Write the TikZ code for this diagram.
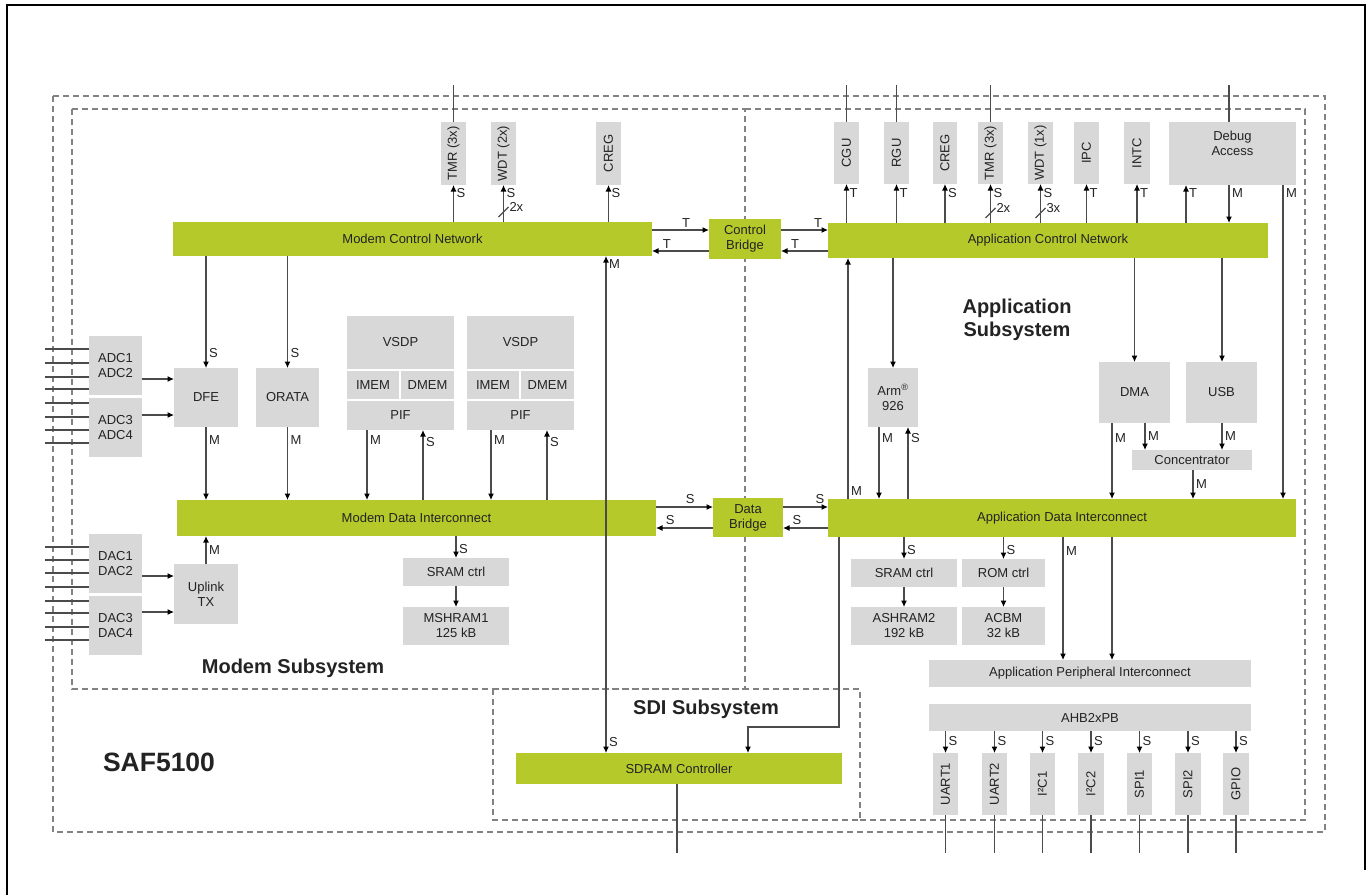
\documentclass[tikz,border=0pt]{standalone}
\usepackage{fontspec}
\setmainfont{Liberation Sans}
\usetikzlibrary{arrows.meta,calc}
\definecolor{grn}{RGB}{181,202,42}
\definecolor{gbx}{RGB}{216,216,216}
\definecolor{lnc}{RGB}{75,75,75}
\definecolor{txc}{RGB}{35,35,35}
\definecolor{dsh}{RGB}{130,130,130}
\newcommand\bx[7]{\node[#6,anchor=north west,minimum width={(#4-#2)*1pt},minimum height={(#5-#3)*1pt}] (#1) at (#2,#3) {#7};}
\begin{document}
\begin{tikzpicture}[x=1pt,y=-1pt,
  every node/.style={font=\fontsize{13}{15}\selectfont, text=txc, inner sep=0pt, outer sep=0pt},
  gbox/.style={fill=gbx, align=center},
  grbox/.style={fill=grn, align=center},
  ln/.style={draw=lnc, line width=1.1pt},
  arr/.style={ln, -{Latex[length=6.5pt,width=6pt,color=black]}},
  darr/.style={ln, {Latex[length=6.5pt,width=6pt,color=black]}-{Latex[length=6.5pt,width=6pt,color=black]}},
  lab/.style={font=\fontsize{13}{15}\selectfont, inner sep=3pt},
  region/.style={draw=dsh, line width=1.2pt, dash pattern=on 6pt off 4pt},
  title/.style={font=\fontsize{20}{23}\selectfont\bfseries, align=center},
]
\useasboundingbox (0,0) rectangle (1370,895);
% frame
\draw[black, line width=2pt] (7,895) -- (7,5) -- (1365,5) -- (1365,870);
% regions
\draw[region] (53,96) rectangle (1325,832);
\draw[region] (72,109) rectangle (745,689);
\draw[region] (493,689) rectangle (860,820);
\draw[region] (745,109) -- (1305,109) -- (1305,820) -- (860,820);

\coordinate (ytop) at (0,85);
\coordinate (ybot) at (0,853);

% ---------- modem top ----------
\bx{tmrm}{441}{122}{466}{185}{gbox}{\rotatebox{90}{TMR (3x)}}
\bx{wdtm}{491}{122}{516}{185}{gbox}{\rotatebox{90}{WDT (2x)}}
\bx{cregm}{596}{122}{621}{185}{gbox}{\rotatebox{90}{CREG}}
\bx{mcn}{173}{222}{652}{256}{grbox}{Modem Control Network}
\bx{cb}{709}{219}{781}{259}{grbox}{Control\\Bridge}
\bx{acn}{828}{223}{1268}{258}{grbox}{Application Control Network}

% ---------- app top ----------
\bx{cgu}{834}{122}{859}{184}{gbox}{\rotatebox{90}{CGU}}
\bx{rgu}{884}{122}{909}{184}{gbox}{\rotatebox{90}{RGU}}
\bx{crega}{933}{122}{957}{184}{gbox}{\rotatebox{90}{CREG}}
\bx{tmra}{978}{122}{1003}{184}{gbox}{\rotatebox{90}{TMR (3x)}}
\bx{wdta}{1028}{122}{1053}{184}{gbox}{\rotatebox{90}{WDT (1x)}}
\bx{ipc}{1074}{122}{1099}{184}{gbox}{\rotatebox{90}{IPC}}
\bx{intc}{1124}{122}{1150}{184}{gbox}{\rotatebox{90}{INTC}}
\bx{dbg}{1169}{122}{1296}{185}{gbox}{Debug\\Access\\[6pt]}

% ---------- modem middle ----------
\bx{adc12}{89}{336}{142}{395}{gbox}{ADC1\\ADC2}
\bx{adc34}{89}{398}{142}{457}{gbox}{ADC3\\ADC4}
\bx{dfe}{174}{368}{238}{427}{gbox}{DFE}
\bx{orata}{256}{368}{319}{427}{gbox}{ORATA}
\bx{vatop}{347}{316}{454}{369}{gbox}{VSDP}
\bx{vaim}{347}{371}{399}{399}{gbox}{IMEM}
\bx{vadm}{401}{371}{454}{399}{gbox}{DMEM}
\bx{vapif}{347}{401}{454}{430}{gbox}{PIF}
\bx{vbtop}{467}{316}{574}{369}{gbox}{VSDP}
\bx{vbim}{467}{371}{519}{399}{gbox}{IMEM}
\bx{vbdm}{521}{371}{574}{399}{gbox}{DMEM}
\bx{vbpif}{467}{401}{574}{430}{gbox}{PIF}
\bx{mdi}{177}{500}{656}{536}{grbox}{Modem Data Interconnect}
\bx{db}{713}{498}{783}{537}{grbox}{Data\\Bridge}
\bx{adi}{828}{499}{1296}{537}{grbox}{Application Data Interconnect}

% ---------- app middle ----------
\bx{arm}{868}{368}{918}{427}{gbox}{Arm\textsuperscript{®}\\926}
\bx{dma}{1099}{362}{1170}{423}{gbox}{DMA}
\bx{usb}{1186}{362}{1257}{423}{gbox}{USB}
\bx{conc}{1132}{450}{1252}{470}{gbox}{Concentrator}

% ---------- modem lower ----------
\bx{dac12}{89}{534}{142}{593}{gbox}{DAC1\\DAC2}
\bx{dac34}{89}{596}{142}{655}{gbox}{DAC3\\DAC4}
\bx{upl}{174}{564}{238}{624}{gbox}{Uplink\\TX}
\bx{sramm}{403}{558}{509}{586}{gbox}{SRAM ctrl}
\bx{msh}{403}{607}{509}{645}{gbox}{MSHRAM1\\125 kB}

% ---------- app lower ----------
\bx{srama}{851}{559}{957}{587}{gbox}{SRAM ctrl}
\bx{rom}{962}{559}{1045}{587}{gbox}{ROM ctrl}
\bx{ash}{851}{607}{957}{645}{gbox}{ASHRAM2\\192 kB}
\bx{acbm}{962}{607}{1045}{645}{gbox}{ACBM\\32 kB}
\bx{api}{929}{660}{1251}{687}{gbox}{Application Peripheral Interconnect}
\bx{ahb}{929}{704}{1251}{731}{gbox}{AHB2xPB}
\bx{u1}{933}{753}{958}{815}{gbox}{\rotatebox{90}{UART1}}
\bx{u2}{982}{753}{1007}{815}{gbox}{\rotatebox{90}{UART2}}
\bx{ic1}{1030}{753}{1055}{815}{gbox}{\rotatebox{90}{I²C1}}
\bx{ic2}{1078}{753}{1104}{815}{gbox}{\rotatebox{90}{I²C2}}
\bx{sp1}{1127}{753}{1152}{815}{gbox}{\rotatebox{90}{SPI1}}
\bx{sp2}{1175}{753}{1201}{815}{gbox}{\rotatebox{90}{SPI2}}
\bx{gp}{1223}{753}{1249}{815}{gbox}{\rotatebox{90}{GPIO}}
\bx{sdram}{516}{753}{842}{784}{grbox}{SDRAM Controller}

% ---------- titles ----------
\node[title] (appt) at (1017,320) {Application\\Subsystem};
\node[title] (modt) at (293,668) {Modem Subsystem};
\node[title] (sdit) at (706,709) {SDI Subsystem};
\node[font=\fontsize{26.5}{30}\selectfont\bfseries] (saf) at (159,762) {SAF5100};

% ---------- external lines ----------
\coordinate (xdm) at (1229,0);
\foreach \n in {tmrm,cgu,rgu,tmra} \draw[ln] (\n.north) -- (\n.north |- ytop);
\draw[ln] (dbg.north -| xdm) -- (ytop -| xdm);
\foreach \n in {u1,u2,ic1,ic2,sp1,sp2,gp} \draw[ln] (\n.south) -- (\n.south |- ybot);
\coordinate (xso) at (677,0);
\draw[ln] (sdram.south -| xso) -- (ybot -| xso);
\foreach \y in {349,363,377,389,403,417,430,443,547,560,573,587,601,613,627,640}
  \draw[ln] (45,\y) -- (89,\y);

% ---------- modem control arrows ----------
\foreach \n in {tmrm,wdtm,cregm} \draw[arr] (mcn.north -| \n) -- node[lab,right,pos=0.78]{S} (\n.south);
\draw[ln] ($(mcn.north -| wdtm)+(-5,-5)$) -- ++(10,-10);
\node[lab,anchor=west] (x2m) at ($(mcn.north -| wdtm)+(3,-15)$) {2x};

\coordinate (yt1) at (0,230);
\coordinate (yt2) at (0,251);
\draw[arr] (mcn.east |- yt1) -- node[lab,above,pos=0.6]{T} (cb.west |- yt1);
\draw[arr] (cb.west |- yt2) -- node[lab,above,pos=0.74]{T} (mcn.east |- yt2);
\draw[arr] (cb.east |- yt1) -- node[lab,above,pos=0.79]{T} (acn.west |- yt1);
\draw[arr] (acn.west |- yt2) -- node[lab,above,pos=0.7]{T} (cb.east |- yt2);

% ---------- app control arrows ----------
\foreach \n/\l in {cgu/T,rgu/T,crega/S,tmra/S,wdta/S,ipc/T,intc/T}
  \draw[arr] (acn.north -| \n) -- node[lab,right,pos=0.78]{\l} (\n.south);
\draw[ln] ($(acn.north -| tmra)+(-5,-5)$) -- ++(10,-10);
\node[lab,anchor=west] (x2a) at ($(acn.north -| tmra)+(3,-15)$) {2x};
\draw[ln] ($(acn.north -| wdta)+(-5,-5)$) -- ++(10,-10);
\node[lab,anchor=west] (x3a) at ($(acn.north -| wdta)+(3,-15)$) {3x};
\coordinate (xdt) at (1186,0);
\draw[arr] (acn.north -| xdt) -- node[lab,right,pos=0.78]{T} (dbg.south -| xdt);
\draw[arr] (dbg.south -| xdm) -- node[lab,right,pos=0.22]{M} (acn.north -| xdm);
\coordinate (xdm2) at (1283,0);
\draw[arr] (dbg.south -| xdm2) -- node[lab,right,pos=0.025]{M} (adi.north -| xdm2);

% ---------- below ACN ----------
\coordinate (xs) at (848,0);
\draw[arr] (adi.north -| xs) -- node[lab,right,pos=0.033]{M} (acn.south -| xs);
\draw[arr] (acn.south -| arm) -- (arm.north);
\draw[arr] (acn.south -| dma) -- (dma.north);
\coordinate (xu) at (1222,0);
\draw[arr] (acn.south -| xu) -- (usb.north -| xu);
\coordinate (xam) at (879,0);
\coordinate (xas) at (908,0);
\draw[arr] (arm.south -| xam) -- node[lab,right,pos=0.15]{M} (adi.north -| xam);
\draw[arr] (adi.north -| xas) -- node[lab,right,pos=0.85]{S} (arm.south -| xas);
\coordinate (xd1) at (1112,0);
\coordinate (xdc) at (1145,0);
\coordinate (xca) at (1193,0);
\draw[arr] (dma.south -| xd1) -- node[lab,right,pos=0.2]{M} (adi.north -| xd1);
\draw[arr] (dma.south -| xdc) -- node[lab,right,pos=0.5]{M} (conc.north -| xdc);
\draw[arr] (usb.south -| xu) -- node[lab,right,pos=0.5]{M} (conc.north -| xu);
\draw[arr] (conc.south -| xca) -- node[lab,right,pos=0.5]{M} (adi.north -| xca);

% ---------- data bridge arrows ----------
\coordinate (yd1) at (0,507);
\coordinate (yd2) at (0,528);
\draw[arr] (mdi.east |- yd1) -- node[lab,above,pos=0.6]{S} (db.west |- yd1);
\draw[arr] (db.west |- yd2) -- node[lab,above,pos=0.75]{S} (mdi.east |- yd2);
\draw[arr] (db.east |- yd1) -- node[lab,above,pos=0.82]{S} (adi.west |- yd1);
\draw[arr] (adi.west |- yd2) -- node[lab,above,pos=0.69]{S} (db.east |- yd2);

% ---------- modem middle arrows ----------
\draw[arr] (mcn.south -| dfe) -- node[lab,right,pos=0.87]{S} (dfe.north);
\draw[arr] (mcn.south -| orata) -- node[lab,right,pos=0.87]{S} (orata.north);
\draw[arr] (dfe.south) -- node[lab,right,pos=0.18]{M} (mdi.north -| dfe);
\draw[arr] (orata.south) -- node[lab,right,pos=0.18]{M} (mdi.north -| orata);
\draw[arr] (adc12.east |- 0,379) -- (dfe.west |- 0,379);
\draw[arr] (adc34.east |- 0,415) -- (dfe.west |- 0,415);
\coordinate (xv1m) at (367,0);
\coordinate (xv1s) at (423,0);
\coordinate (xv2m) at (491,0);
\coordinate (xv2s) at (547,0);
\draw[arr] (vapif.south -| xv1m) -- node[lab,right,pos=0.15]{M} (mdi.north -| xv1m);
\draw[arr] (mdi.north -| xv1s) -- node[lab,right,pos=0.83]{S} (vapif.south -| xv1s);
\draw[arr] (vbpif.south -| xv2m) -- node[lab,right,pos=0.15]{M} (mdi.north -| xv2m);
\draw[arr] (mdi.north -| xv2s) -- node[lab,right,pos=0.83]{S} (vbpif.south -| xv2s);

% ---------- modem lower arrows ----------
\draw[arr] (dac12.east |- 0,576) -- (upl.west |- 0,576);
\draw[arr] (dac34.east |- 0,612) -- (upl.west |- 0,612);
\draw[arr] (upl.north) -- node[lab,right,pos=0.5]{M} (mdi.south -| upl);
\draw[arr] (mdi.south -| sramm) -- node[lab,right,pos=0.6]{S} (sramm.north);
\draw[arr] (sramm.south) -- (msh.north);

% ---------- SDRAM links ----------
\coordinate (xsd) at (606,0);
\draw[darr] (mcn.south -| xsd) -- node[lab,right,pos=0.016]{M} node[lab,right,pos=0.978]{S} (sdram.north -| xsd);
\coordinate (xsb) at (839,0);
\coordinate (xsc) at (748,0);
\coordinate (yh) at (0,727);
\draw[arr] (adi.south -| xsb) -- (xsb |- yh) -- (xsc |- yh) -- (sdram.north -| xsc);

% ---------- app lower arrows ----------
\draw[arr] (adi.south -| srama) -- node[lab,right,pos=0.6]{S} (srama.north);
\draw[arr] (adi.south -| rom) -- node[lab,right,pos=0.6]{S} (rom.north);
\draw[arr] (srama.south) -- (ash.north);
\draw[arr] (rom.south) -- (acbm.north);
\coordinate (xp1) at (1063,0);
\draw[arr] (adi.south -| xp1) -- node[lab,right,pos=0.11]{M} (api.north -| xp1);
\draw[arr] (adi.south -| xd1) -- (api.north -| xd1);
\foreach \n in {u1,u2,ic1,ic2,sp1,sp2,gp}
  \draw[arr] (ahb.south -| \n) -- node[lab,right,pos=0.45]{S} (\n.north);
\end{tikzpicture}
\end{document}
